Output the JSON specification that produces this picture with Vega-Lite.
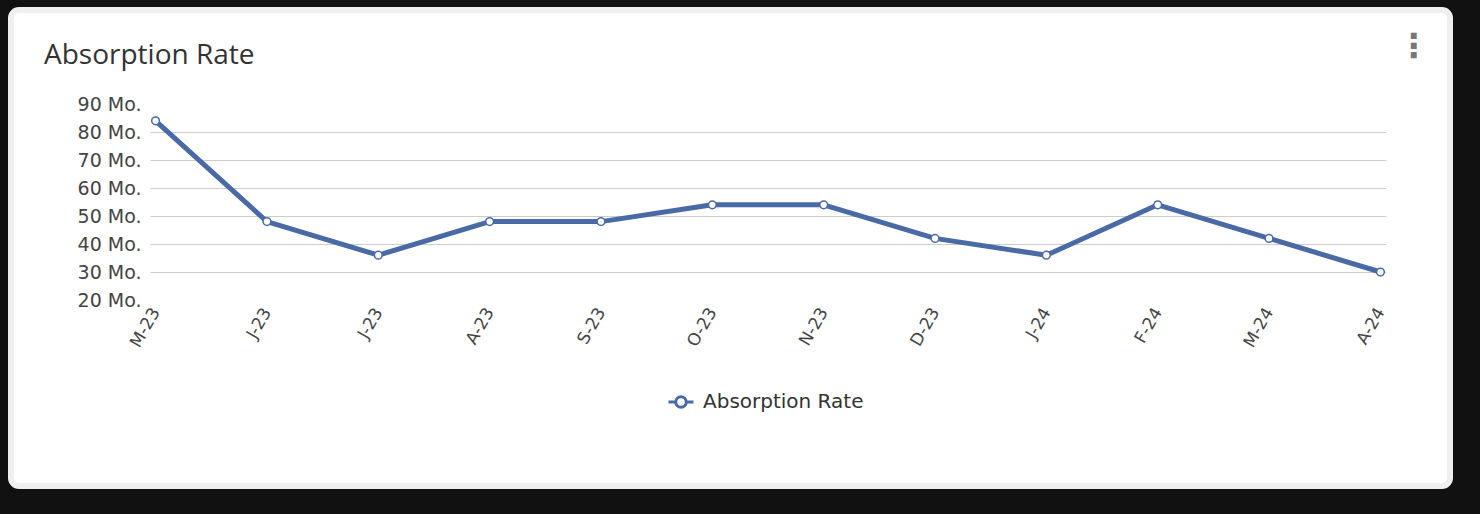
{
  "$schema": "https://vega.github.io/schema/vega-lite/v6.json",
  "width": 1439,
  "height": 476,
  "autosize": {"type": "none"},
  "padding": {"left": 11, "top": 10, "right": 30, "bottom": 28},
  "background": "#111111",
  "title": {
    "text": "Absorption Rate",
    "anchor": "start",
    "frame": "group",
    "font": "Open Sans",
    "fontSize": 28,
    "fontWeight": "normal",
    "color": "#333333",
    "baseline": "alphabetic",
    "offset": 0,
    "dx": 33,
    "dy": 82
  },
  "data": {
    "values": [
      {"month": "May-23", "rate": 84, "series": "Absorption Rate"},
      {"month": "Jun-23", "rate": 48, "series": "Absorption Rate"},
      {"month": "Jul-23", "rate": 36, "series": "Absorption Rate"},
      {"month": "Aug-23", "rate": 48, "series": "Absorption Rate"},
      {"month": "Sep-23", "rate": 48, "series": "Absorption Rate"},
      {"month": "Oct-23", "rate": 54, "series": "Absorption Rate"},
      {"month": "Nov-23", "rate": 54, "series": "Absorption Rate"},
      {"month": "Dec-23", "rate": 42, "series": "Absorption Rate"},
      {"month": "Jan-24", "rate": 36, "series": "Absorption Rate"},
      {"month": "Feb-24", "rate": 54, "series": "Absorption Rate"},
      {"month": "Mar-24", "rate": 42, "series": "Absorption Rate"},
      {"month": "Apr-24", "rate": 30, "series": "Absorption Rate"}
    ]
  },
  "encoding": {
    "x": {
      "field": "month",
      "type": "ordinal",
      "sort": null,
      "scale": {"type": "point", "range": [139, 1375], "padding": 0.05},
      "axis": {
        "orient": "bottom",
        "offset": -186,
        "labelExpr": "slice(datum.value,0,1) + slice(datum.value,3)",
        "labelAngle": -60,
        "labelAlign": "right",
        "labelBaseline": "middle",
        "labelFont": "DejaVu Sans",
        "labelFontSize": 17,
        "labelColor": "#444444",
        "labelPadding": 9,
        "ticks": false,
        "tickSize": 0,
        "domain": false,
        "grid": false,
        "title": "⋮",
        "titleX": 1402,
        "titleY": -254,
        "titleAlign": "center",
        "titleBaseline": "middle",
        "titleFont": "DejaVu Sans",
        "titleFontSize": 33,
        "titleFontWeight": "bold",
        "titleColor": "#777777"
      }
    },
    "y": {
      "field": "rate",
      "type": "quantitative",
      "scale": {"domain": [20, 90], "range": [290, 94], "zero": false, "nice": false},
      "axis": {
        "orient": "left",
        "offset": -139,
        "values": [20, 30, 40, 50, 60, 70, 80, 90],
        "labelExpr": "datum.value + ' Mo.'",
        "labelFont": "DejaVu Sans",
        "labelFontSize": 19,
        "labelColor": "#444444",
        "labelPadding": 9,
        "ticks": false,
        "tickSize": 0,
        "domain": false,
        "title": null,
        "grid": true,
        "gridColor": "#cccccc",
        "gridWidth": 1,
        "gridOpacity": {"condition": {"test": "datum.value === 90 || datum.value === 20", "value": 0}, "value": 1}
      }
    }
  },
  "layer": [
    {
      "mark": {"type": "line", "strokeWidth": 5, "strokeJoin": "round"},
      "encoding": {
        "color": {
          "field": "series",
          "type": "nominal",
          "scale": {"domain": ["Absorption Rate"], "range": ["#4a6aa5"]},
          "legend": {
            "title": null,
            "orient": "none",
            "legendX": 656,
            "legendY": 378,
            "symbolType": "M-1,0L-0.42,0M0.42,0L1,0M0.42,0A0.42,0.42,0,1,1,-0.42,0A0.42,0.42,0,1,1,0.42,0",
            "symbolSize": 625,
            "symbolStrokeWidth": 3,
            "symbolFillColor": "#ffffff",
            "symbolStrokeColor": "#7f9bc8",
            "symbolOpacity": 1,
            "labelFont": "DejaVu Sans",
            "labelFontSize": 20,
            "labelLimit": 0,
            "labelColor": "#333333",
            "labelOffset": 8
          }
        }
      }
    },
    {
      "mark": {"type": "point", "filled": true, "fill": "#ffffff", "stroke": "#4a6aa5", "strokeWidth": 1.5, "size": 60, "opacity": 1}
    }
  ],
  "config": {
    "view": {"fill": "#ffffff", "stroke": "#efefef", "strokeWidth": 6, "cornerRadius": 8}
  }
}
